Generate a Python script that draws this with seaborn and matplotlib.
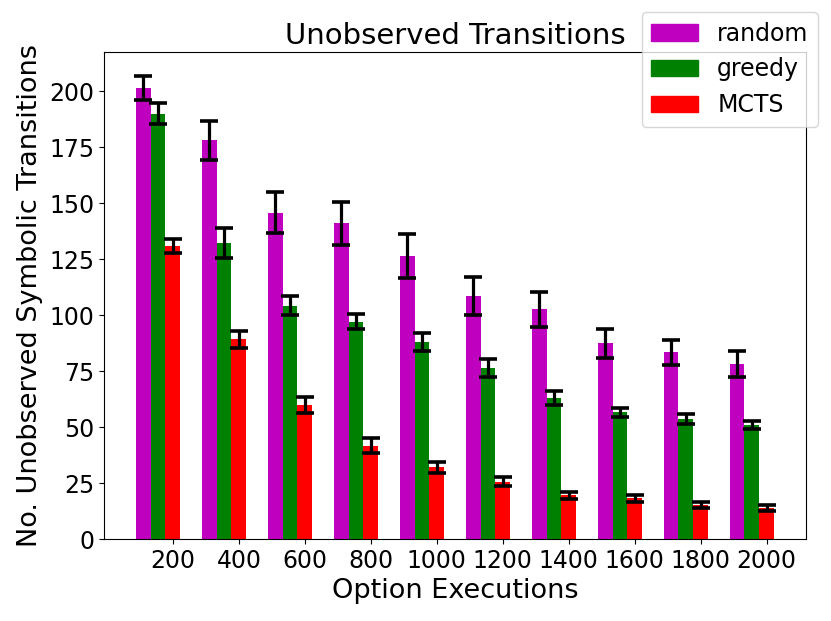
import numpy as np
import pandas as pd
import matplotlib
matplotlib.use("Agg")
import matplotlib.pyplot as plt
import seaborn as sns

# values
executions = ["200", "400", "600", "800", "1000", "1200", "1400", "1600", "1800", "2000"]
methods = ["random", "greedy", "MCTS"]

random_vals = [201.5, 178.0, 145.8, 140.9, 126.3, 108.5, 102.5, 87.5, 83.3, 78.1]
random_err = [5.3, 8.8, 9.0, 9.5, 9.7, 8.5, 8.0, 6.5, 5.5, 5.7]
greedy_vals = [190.0, 132.1, 104.2, 97.0, 87.8, 76.2, 63.1, 56.5, 53.6, 50.9]
greedy_err = [4.8, 6.8, 4.3, 3.3, 4.0, 4.0, 3.2, 2.2, 2.3, 1.8]
mcts_vals = [130.9, 89.1, 59.7, 41.7, 32.0, 25.6, 19.5, 18.2, 15.2, 13.7]
mcts_err = [3.2, 4.0, 3.6, 3.3, 2.5, 1.9, 1.5, 1.6, 1.3, 1.3]

colors = ["m", "g", "r"]

# long form table for seaborn
df = pd.DataFrame({
    "Executions": executions * 3,
    "Method": np.repeat(methods, len(executions)),
    "Value": random_vals + greedy_vals + mcts_vals,
})
errs = [random_err, greedy_err, mcts_err]
vals = [random_vals, greedy_vals, mcts_vals]

w = 0.225  # width of one bar

fig = plt.figure(figsize=(8.31, 6.21), dpi=100)
ax = fig.add_axes([0.125, 0.132, 0.845, 0.784])

sns.barplot(data=df, x="Executions", y="Value", hue="Method", order=executions,
            hue_order=methods, palette=colors, saturation=1, width=3 * w,
            errorbar=None, ax=ax, legend=False)

# error bars on top of each bar container
for cont, v, e in zip(ax.containers, vals, errs):
    xs = [p.get_x() + p.get_width() / 2 for p in cont.patches]
    ax.errorbar(xs, v, yerr=e, fmt="none", ecolor="k", elinewidth=2.3,
                capsize=6.5, capthick=2.6)

# ticks sit under the MCTS bar
n = len(executions)
ax.set_xticks(np.arange(n) + w)
ax.set_xticklabels(executions)
span = (n - 1) + 3 * w
ax.set_xlim(-1.5 * w - 0.05 * span, (n - 1) + 1.5 * w + 0.05 * span)
ax.set_ylim(0, 217.4)
ax.tick_params(labelsize=17)

ax.set_title("Unobserved Transitions", fontsize=21)
ax.set_xlabel("Option Executions", fontsize=19.5)
ax.set_ylabel("No. Unobserved Symbolic Transitions", fontsize=19.5)

handles = [plt.Rectangle((0, 0), 1, 1, color=c) for c in colors]
ax.legend(handles, methods, loc="upper right", bbox_to_anchor=(1.017, 1.082),
          borderaxespad=0, fontsize=17)

plt.savefig("out.png", dpi=100)
